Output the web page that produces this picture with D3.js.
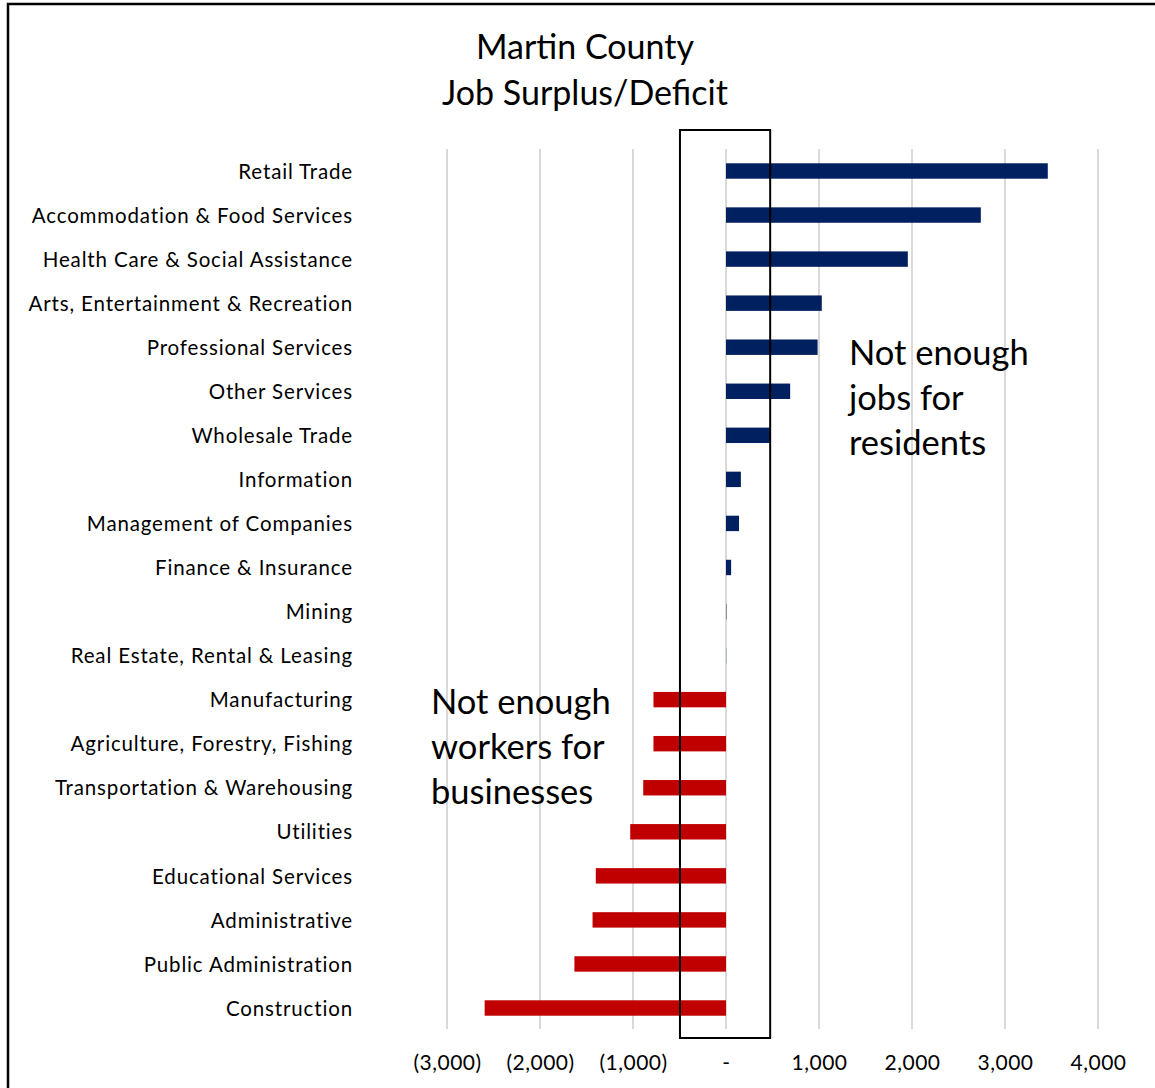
<!DOCTYPE html>
<html>
<head>
<meta charset="utf-8">
<script src="https://cdn.jsdelivr.net/npm/d3@7"></script>
<style>
  html, body { margin: 0; padding: 0; background: #fff; }
  svg { display: block; }
  text { font-family: Lato, "Open Sans", sans-serif; fill: #000; }
</style>
</head>
<body>
<svg id="chart" width="1155" height="1088"></svg>
<script>
// Industry categories, top to bottom
const industries = [
  "Retail Trade",
  "Accommodation & Food Services",
  "Health Care & Social Assistance",
  "Arts, Entertainment & Recreation",
  "Professional Services",
  "Other Services",
  "Wholesale Trade",
  "Information",
  "Management of Companies",
  "Finance & Insurance",
  "Mining",
  "Real Estate, Rental & Leasing",
  "Manufacturing",
  "Agriculture, Forestry, Fishing",
  "Transportation & Warehousing",
  "Utilities",
  "Educational Services",
  "Administrative",
  "Public Administration",
  "Construction"
];

// Job surplus (+) / deficit (-) per industry
const surplus = [
  3460, 2740, 1955, 1030, 985, 690, 475, 160, 140, 55,
  4, 2, -780, -780, -890, -1030, -1400, -1435, -1630, -2595
];

const tickValues = [-3000, -2000, -1000, 0, 1000, 2000, 3000, 4000];

// Highlighted band around zero
const boxExtent = [-495, 475];

const titleLines = ["Martin County", "Job Surplus/Deficit"];
const noteRight = ["Not enough", "jobs for", "residents"];
const noteLeft = ["Not enough", "workers for", "businesses"];

const svg = d3.select("#chart");

const x = d3.scaleLinear().domain([-3000, 4000]).range([447, 1098]);
const y = d3.scalePoint().domain(industries).range([171, 1008]);
const barH = y.step() * 0.35;

const gridTop = 149, gridBottom = 1029;

// frame (top and left edges)
svg.append("path")
  .attr("d", "M8,1088 V4 H1155")
  .attr("fill", "none")
  .attr("stroke", "#000")
  .attr("stroke-width", 2.5);

// title
svg.append("g").selectAll("text").data(titleLines).join("text")
  .attr("x", 585)
  .attr("y", (d, i) => 59 + i * 46)
  .attr("text-anchor", "middle")
  .attr("font-size", 34)
  .text(d => d);

// vertical gridlines
svg.append("g").selectAll("line").data(tickValues).join("line")
  .attr("x1", d => x(d)).attr("x2", d => x(d))
  .attr("y1", gridTop).attr("y2", gridBottom)
  .attr("stroke", "#d9d9d9")
  .attr("stroke-width", 2);

// bars
svg.append("g").selectAll("rect").data(industries).join("rect")
  .attr("x", (d, i) => Math.min(x(0), x(surplus[i])))
  .attr("y", d => y(d) - barH / 2)
  .attr("width", (d, i) => Math.abs(x(surplus[i]) - x(0)))
  .attr("height", barH)
  .attr("fill", (d, i) => surplus[i] >= 0 ? "#002060" : "#c00000");

// category labels
const yAxis = d3.axisLeft(y).tickSize(0).tickPadding(0);
svg.append("g")
  .attr("transform", "translate(353,0)")
  .call(yAxis)
  .call(g => g.select(".domain").remove())
  .call(g => g.selectAll("text")
    .attr("font-size", 20.5)
    .attr("letter-spacing", 0.85)
    .attr("font-family", "Lato, sans-serif")
    .attr("fill", "#000")
    .attr("dy", "0.35em"));

// value axis labels
const fmt = d3.format(",");
const tickFmt = v => v === 0 ? "-" : v < 0 ? "(" + fmt(-v) + ")" : fmt(v);
const xAxis = d3.axisBottom(x).tickValues(tickValues).tickFormat(tickFmt).tickSize(0).tickPadding(0);
svg.append("g")
  .attr("transform", "translate(0,1063)")
  .call(xAxis)
  .call(g => g.select(".domain").remove())
  .call(g => g.selectAll("text")
    .attr("font-size", 21)
    .attr("letter-spacing", 0.5)
    .attr("font-family", "Lato, sans-serif")
    .attr("fill", "#000")
    .attr("dy", "0.35em"));

// highlight box around zero
svg.append("rect")
  .attr("x", x(boxExtent[0]))
  .attr("y", 130)
  .attr("width", x(boxExtent[1]) - x(boxExtent[0]))
  .attr("height", 1038 - 130)
  .attr("fill", "none")
  .attr("stroke", "#000")
  .attr("stroke-width", 2);

// annotations
function note(lines, left, top) {
  svg.append("g").selectAll("text").data(lines).join("text")
    .attr("x", left)
    .attr("y", (d, i) => top + i * 45)
    .attr("font-size", 34.5)
    .text(d => d);
}
note(noteRight, 849, 365);
note(noteLeft, 431, 714);
</script>
</body>
</html>
